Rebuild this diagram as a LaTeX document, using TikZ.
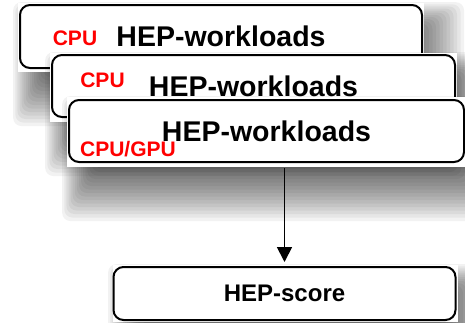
\documentclass[tikz,border=0pt]{standalone}
\usepackage{fontspec}
\setmainfont{Liberation Sans}
\usetikzlibrary{arrows.meta}
\definecolor{hepink}{HTML}{000000}
\definecolor{hepred}{HTML}{FF0000}
% soft shadow under a white sheet, #1 = its north west, #2 = its south east
\newcommand{\hepshadow}[2]{%
  \foreach \k in {0,...,16}
    \fill[black, opacity=0.05, rounded corners=8pt]
      ([shift={({12-0.6*(28-3.5*\k)},{16-0.6*(28-3.5*\k)})}]#1)
      rectangle ([shift={({12+(28-3.5*\k)},{26+(28-3.5*\k)})}]#2);
}

\begin{document}
\begin{tikzpicture}[
  x=1pt,
  y=-1pt,
  every node/.style={font=\bfseries, hepink},
  sheet/.style={fill=white},
  wbox/.style={draw=hepink, line width=2pt, rounded corners=10pt, inner sep=0pt,
    font=\fontsize{28.5}{30}\selectfont\bfseries},
  cpu/.style={hepred, inner sep=0pt, font=\fontsize{21}{23}\selectfont\bfseries},
  link/.style={hepink, line width=1.8pt, -{Triangle[length=15pt, width=15pt]}}
]
  \useasboundingbox (0,0) rectangle (465,322);

  % ---- first workload sheet --------------------------------------------
  \hepshadow{18,3}{424,72}
  \fill[sheet] (18,3) rectangle (424,72);
  \node[wbox, minimum width=402pt, minimum height=63pt] (w1) at (221,36.5)
    {HEP-workloads};
  \node[cpu] (c1) at (75,38) {CPU};

  % ---- second workload sheet -------------------------------------------
  \hepshadow{50,53}{457,122}
  \fill[sheet] (50,53) rectangle (457,122);
  \node[wbox, minimum width=403pt, minimum height=62pt] (w2) at (253.5,86)
    {HEP-workloads};
  \node[cpu] (c2) at (102.5,80.5) {CPU};

  % ---- third workload sheet, partly off the page -----------------------
  \hepshadow{67,97}{467,167}
  \fill[sheet] (67,97) rectangle (467,167);
  \node[wbox, minimum width=395pt, minimum height=62pt] (w3) at (266.5,131)
    {HEP-workloads};
  \node[cpu] (c3) at (128,149.5) {CPU/GPU};

  % ---- score -----------------------------------------------------------
  \hepshadow{113,265}{458,322}
  \fill[sheet] (113,265) rectangle (458,322);
  \node[wbox, minimum width=342pt, minimum height=53pt,
    font=\fontsize{24}{26}\selectfont\bfseries] (score) at (284.5,293.5)
    {HEP-score};

  % ---- workloads feed the score ----------------------------------------
  \draw[link, shorten <=5pt, shorten >=4pt] (w3.south -| score.north) -- (score.north);
\end{tikzpicture}
\end{document}
